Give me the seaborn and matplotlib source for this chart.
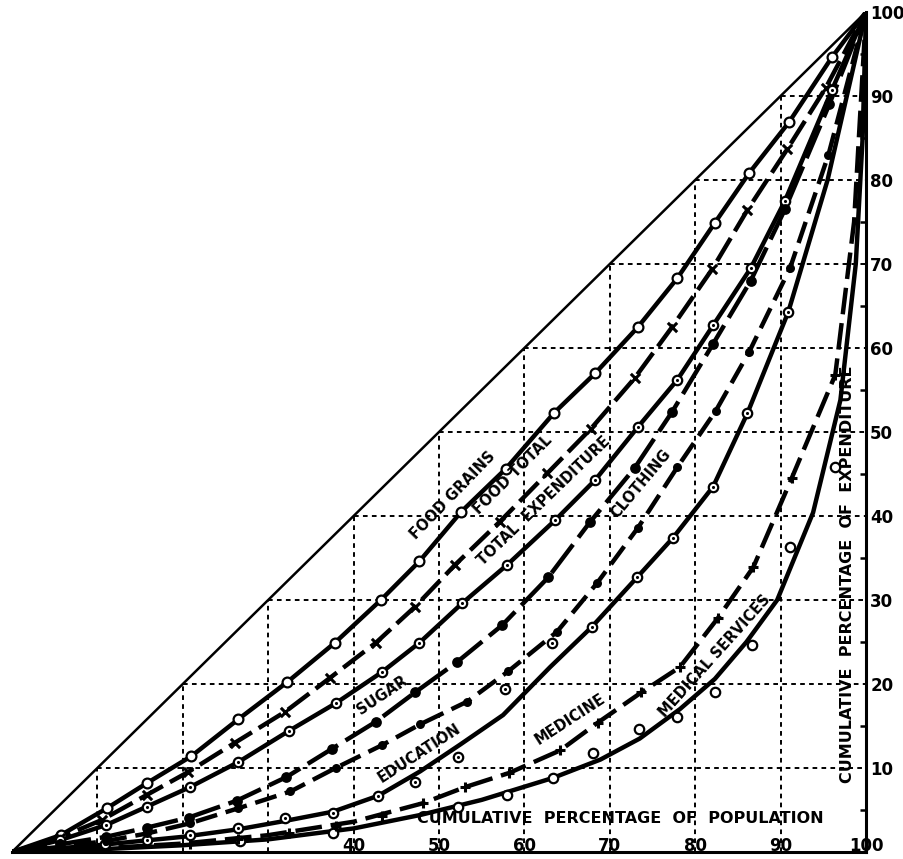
import numpy as np
import pandas as pd
import matplotlib
matplotlib.use("Agg")
import matplotlib.pyplot as plt
import seaborn as sns

# cumulative % of population (x) vs cumulative % of expenditure (y)
grains_x = [0, 5.7, 11.1, 15.8, 21.0, 26.5, 32.2, 37.8, 43.2, 47.7, 52.6, 57.8, 63.5, 68.3, 73.3, 77.9, 82.3, 86.3, 91.0, 96.0, 100]
grains_y = [0, 2.0, 5.2, 8.2, 11.4, 15.8, 20.2, 24.9, 30.0, 34.6, 40.5, 45.6, 52.3, 57.0, 62.5, 68.3, 74.9, 80.8, 86.9, 94.6, 100]

foodtot_x = [0, 5.6, 10.5, 15.8, 20.6, 26.1, 32.0, 37.2, 42.6, 47.2, 51.9, 57.1, 62.7, 67.8, 72.9, 77.3, 82.0, 86.1, 90.8, 95.3, 100]
foodtot_y = [0, 1.7, 3.8, 6.8, 9.5, 13.0, 16.7, 20.7, 24.9, 29.2, 34.2, 39.3, 45.1, 50.4, 56.4, 62.5, 69.4, 76.4, 83.7, 91.0, 100]

totexp_x = [0, 5.6, 11.0, 15.8, 20.8, 26.5, 32.4, 37.9, 43.3, 47.7, 52.7, 58.0, 63.6, 68.3, 73.3, 77.9, 82.1, 86.5, 90.5, 96.0, 100]
totexp_y = [0, 1.4, 3.2, 5.4, 7.7, 10.7, 14.4, 17.7, 21.4, 24.9, 29.6, 34.2, 39.5, 44.3, 50.6, 56.2, 62.7, 69.5, 77.5, 90.7, 100]

sugar_x = [0, 5.6, 11.0, 15.8, 20.7, 26.3, 32.1, 37.5, 42.6, 47.2, 52.1, 57.4, 62.8, 67.7, 72.9, 77.3, 82.1, 86.5, 90.5, 95.7, 100]
sugar_y = [0, 0.9, 1.8, 2.9, 4.1, 6.1, 8.9, 12.3, 15.5, 19.0, 22.6, 27.0, 32.7, 39.3, 45.7, 52.4, 60.5, 68.0, 76.5, 89.0, 100]

cloth_x = [0, 5.6, 11.0, 15.8, 20.8, 26.5, 32.6, 37.9, 43.3, 47.8, 53.3, 58.1, 63.8, 68.5, 73.3, 77.9, 82.4, 86.3, 91.1, 95.6, 100]
cloth_y = [0, 0.6, 1.3, 2.2, 3.4, 5.2, 7.2, 10.0, 12.7, 15.2, 17.9, 21.5, 26.2, 32.0, 38.6, 45.8, 52.5, 59.5, 69.5, 83.0, 100]

educ_x = [0, 10, 20, 26.5, 32.0, 37.6, 42.9, 47.8, 52.5, 57.5, 63.0, 67.9, 73.2, 77.4, 82.1, 86.1, 90.9, 95.5, 100]
educ_y = [0, 0.8, 1.8, 2.7, 3.7, 4.8, 6.7, 9.6, 12.8, 16.3, 22.0, 26.8, 32.7, 37.4, 43.5, 52.2, 64.3, 80.0, 100]
educ_pts_x = [10.9, 15.8, 20.8, 26.5, 32.0, 37.6, 42.9, 47.2, 52.2, 57.7, 63.2, 67.9, 73.2, 77.4, 82.1, 86.1, 90.9]
educ_pts_y = [0.9, 1.4, 2.0, 2.8, 4.0, 4.6, 6.7, 8.3, 11.3, 19.4, 24.9, 26.8, 32.7, 37.4, 43.5, 52.2, 64.3]

medic_x = [0, 10, 20, 30, 40, 48.1, 53.0, 58.2, 64.2, 68.6, 73.7, 78.2, 82.7, 86.8, 91.3, 96.4, 98.6, 100]
medic_y = [0, 0.4, 1.0, 2.0, 3.6, 5.8, 7.7, 9.4, 12.1, 15.4, 19.0, 22.0, 27.9, 33.9, 44.5, 56.8, 75.0, 100]
medic_pts_x = [20.8, 26.5, 32.4, 37.9, 43.3, 48.1, 53.0, 58.2, 64.2, 68.6, 73.7, 78.2, 82.7, 86.8, 91.3, 96.4]
medic_pts_y = [1.0, 1.5, 2.3, 3.1, 4.3, 5.8, 7.7, 9.4, 12.1, 15.4, 19.0, 22.0, 27.9, 33.9, 44.5, 56.8]

medserv_x = [0, 10, 20, 30, 40, 47.8, 55.0, 63.3, 68.9, 73.5, 78.2, 82.3, 86.0, 89.6, 93.8, 97.0, 98.8, 99.6, 100]
medserv_y = [0, 0.3, 0.8, 1.5, 2.8, 4.4, 6.2, 8.8, 11.0, 13.5, 17.0, 20.6, 25.0, 30.0, 40.4, 53.8, 70.0, 85.0, 100]
medserv_pts_x = [26.7, 37.6, 52.2, 58.0, 63.3, 68.0, 73.4, 77.9, 82.3, 86.7, 91.1, 96.4]
medserv_pts_y = [1.3, 2.2, 5.4, 6.8, 8.8, 11.8, 14.6, 16.1, 19.0, 24.6, 36.3, 45.8]

grid_vals = list(range(10, 100, 10))
x_ticks = [40, 50, 60, 70, 80, 90, 100]
y_ticks = [10, 20, 30, 40, 50, 60, 70, 80, 90, 100]

labels = [
    ("FOOD GRAINS", 51.6, 42.4, 46),
    ("FOOD TOTAL", 58.6, 44.9, 45),
    ("TOTAL  EXPENDITURE", 62.3, 41.8, 44),
    ("SUGAR", 43.4, 18.6, 34),
    ("CLOTHING", 73.6, 43.8, 50),
    ("EDUCATION", 47.7, 11.8, 33),
    ("MEDICINE", 65.4, 15.8, 33),
    ("MEDICAL SERVICES", 82.3, 23.3, 48),
]

sns.set_style("white")
plt.rcParams['font.family'] = ['DejaVu Sans']
plt.rcParams['font.weight'] = 'bold'
plt.rcParams['text.color'] = 'black'
plt.rcParams['xtick.color'] = 'black'
plt.rcParams['ytick.color'] = 'black'

fig = plt.figure(figsize=(9.04, 8.59), dpi=100)
ax = fig.add_axes([0.0133, 0.0082, 0.9447, 0.9779])
ax.set_xlim(0, 100)
ax.set_ylim(0, 100)

# dotted grid, only beneath the line of equality
ax.vlines(grid_vals, 0, grid_vals, colors='black', linestyles=(0, (2.4, 2.2)), lw=1.4, zorder=1)
ax.hlines(grid_vals, grid_vals, 100, colors='black', linestyles=(0, (2.4, 2.2)), lw=1.4, zorder=1)
sns.lineplot(x=[0, 100], y=[0, 100], ax=ax, color='black', lw=1.8, zorder=2)

LW = 3.2
curves = [
    (grains_x, grains_y, '-'),
    (foodtot_x, foodtot_y, (0, (6, 1.8))),
    (totexp_x, totexp_y, '-'),
    (sugar_x, sugar_y, (0, (8, 2))),
    (cloth_x, cloth_y, (0, (5, 2))),
    (educ_x, educ_y, '-'),
    (medic_x, medic_y, (0, (6, 2))),
    (medserv_x, medserv_y, '-'),
]
for cx, cy, ls in curves:
    df = pd.DataFrame({'x': cx, 'y': cy})
    sns.lineplot(data=df, x='x', y='y', ax=ax, color='black', lw=LW,
                 linestyle=ls, estimator=None, sort=False, zorder=3)

def dots(px, py, marker, size, face, lw=1.6, z=4):
    sns.scatterplot(x=px, y=py, ax=ax, marker=marker, s=size, color=face,
                    edgecolor='black', linewidth=lw, zorder=z, legend=False)

# open circles
dots(grains_x[1:-1], grains_y[1:-1], 'o', 50, 'white')
dots(medserv_pts_x, medserv_pts_y, 'o', 46, 'white')
# crosses
sns.scatterplot(x=foodtot_x[1:-1], y=foodtot_y[1:-1], ax=ax, marker='x', s=45,
                color='black', linewidth=2.2, zorder=4, legend=False)
sns.scatterplot(x=medic_pts_x, y=medic_pts_y, ax=ax, marker='+', s=60,
                color='black', linewidth=2.2, zorder=4, legend=False)
# circled dots
for px, py in [(totexp_x[1:-1], totexp_y[1:-1]), (educ_pts_x, educ_pts_y)]:
    dots(px, py, 'o', 46, 'white')
    dots(px, py, 'o', 5, 'black', lw=0, z=5)
# filled dots
dots(sugar_x[1:-1], sugar_y[1:-1], 'o', 60, 'black', lw=0)
dots(cloth_x[1:-1], cloth_y[1:-1], 'o', 42, 'black', lw=0)

for text, tx, ty, rot in labels:
    ax.text(tx, ty, text, rotation=rot, rotation_mode='anchor', ha='center', va='center',
            fontsize=10.5, fontweight='bold', zorder=6)

ax.text(71.2, 4.0, "CUMULATIVE  PERCENTAGE  OF  POPULATION", ha='center', va='center',
        fontsize=11.5, fontweight='bold', zorder=6)
ax.text(97.8, 33.1, "CUMULATIVE  PERCENTAGE  OF  EXPENDITURE", rotation=90, ha='center',
        va='center', fontsize=11.5, fontweight='bold', zorder=6)

for side in ['top', 'left']:
    ax.spines[side].set_visible(False)
ax.spines['right'].set_linewidth(2.2)
ax.spines['bottom'].set_linewidth(2.2)
ax.spines['right'].set_color('black')
ax.spines['bottom'].set_color('black')

ax.yaxis.tick_right()
ax.set_yticks(y_ticks)
ax.set_yticklabels([str(v) for v in y_ticks])
ax.set_yticks(np.arange(5, 100, 10), minor=True)
ax.set_xticks(x_ticks)
ax.set_xticklabels([str(v) for v in x_ticks])
ax.set_xticks(np.arange(5, 100, 10), minor=True)
ax.tick_params(axis='y', which='major', length=0, pad=3, labelsize=12)
ax.tick_params(axis='x', which='major', length=0, pad=-11, labelsize=12)
ax.tick_params(axis='both', which='minor', direction='in', length=4, width=1.8)
ax.set_xlabel('')
ax.set_ylabel('')

fig.savefig('out.png', dpi=100)
